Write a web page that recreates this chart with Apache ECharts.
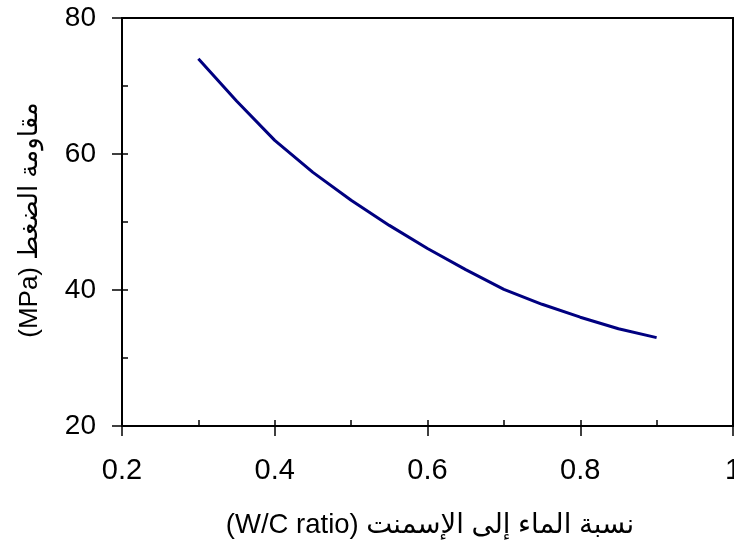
<!DOCTYPE html>
<html>
<head>
<meta charset="utf-8">
<script src="https://cdn.jsdelivr.net/npm/echarts@6/dist/echarts.min.js"></script>
<style>
html,body{margin:0;padding:0;background:#fff;}
#chart{width:734px;height:554px;}
</style>
</head>
<body>
<div id="chart"></div>
<script>
// Data
const wcRatio = [0.30, 0.35, 0.40, 0.45, 0.50, 0.55, 0.60, 0.65, 0.70, 0.75, 0.80, 0.85, 0.90];
const strength = [74.0, 67.8, 62.0, 57.3, 53.2, 49.5, 46.1, 43.0, 40.1, 37.9, 36.0, 34.3, 33.0];
const xTicks = [0.2, 0.4, 0.6, 0.8, 1];
const yTicks = [20, 40, 60, 80];
const xTitle = '(W/C ratio) نسبة الماء إلى الإسمنت';
const yTitle = '(MPa) مقاومة الضغط';

const FONT = '"Liberation Sans", Arial, "DejaVu Sans", sans-serif';
const chart = echarts.init(document.getElementById('chart'), null, {renderer: 'canvas'});

const gridRect = {left: 122, right: 1, top: 18, bottom: 128, outerBoundsMode: 'none', containLabel: false};
const xMin = xTicks[0], xMax = xTicks[xTicks.length - 1];
const yMin = yTicks[0], yMax = yTicks[yTicks.length - 1];

chart.setOption({
  animation: false,
  backgroundColor: '#fff',
  grid: [
    Object.assign({show: true, borderColor: '#000', borderWidth: 2, backgroundColor: 'transparent'}, gridRect),
    Object.assign({show: false}, gridRect)
  ],
  xAxis: [
    {
      type: 'value', gridIndex: 0, min: xMin, max: xMax, interval: 0.2, position: 'bottom',
      axisLine: {show: true, lineStyle: {color: '#000', width: 2}},
      axisTick: {show: true, inside: false, length: 10, lineStyle: {color: '#000', width: 1.5}},
      axisLabel: {show: true, color: '#000', fontSize: 29, fontFamily: FONT, margin: 30,
        formatter: v => String(+v.toFixed(1))},
      splitLine: {show: false}
    },
    {
      type: 'value', gridIndex: 1, min: xMin, max: xMax, interval: 0.1, position: 'bottom',
      axisLine: {show: false},
      axisTick: {show: true, inside: true, length: 6, lineStyle: {color: '#000', width: 1.5}},
      axisLabel: {show: false},
      splitLine: {show: false}
    }
  ],
  yAxis: [
    {
      type: 'value', gridIndex: 0, min: yMin, max: yMax, interval: 20, position: 'left',
      axisLine: {show: true, lineStyle: {color: '#000', width: 2}},
      axisTick: {show: true, inside: false, length: 10, lineStyle: {color: '#000', width: 1.5}},
      axisLabel: {show: true, color: '#000', fontSize: 28, fontFamily: FONT, margin: 26},
      splitLine: {show: false}
    },
    {
      type: 'value', gridIndex: 1, min: yMin, max: yMax, interval: 10, position: 'left',
      axisLine: {show: false},
      axisTick: {show: true, inside: true, length: 6, lineStyle: {color: '#000', width: 1.5}},
      axisLabel: {show: false},
      splitLine: {show: false}
    }
  ],
  graphic: [
    {
      type: 'text', x: 430, y: 525,
      style: {text: xTitle, font: '27.5px ' + FONT, fill: '#000', align: 'center', verticalAlign: 'middle'}
    },
    {
      type: 'text', x: 30, y: 220, rotation: Math.PI / 2,
      style: {text: yTitle, font: '26px ' + FONT, fill: '#000', align: 'center', verticalAlign: 'middle'}
    }
  ],
  series: [
    {
      type: 'line', xAxisIndex: 0, yAxisIndex: 0,
      data: wcRatio.map((x, i) => [x, strength[i]]),
      symbol: 'none', smooth: false,
      lineStyle: {color: '#000080', width: 3},
      clip: false
    }
  ]
});
</script>
</body>
</html>
